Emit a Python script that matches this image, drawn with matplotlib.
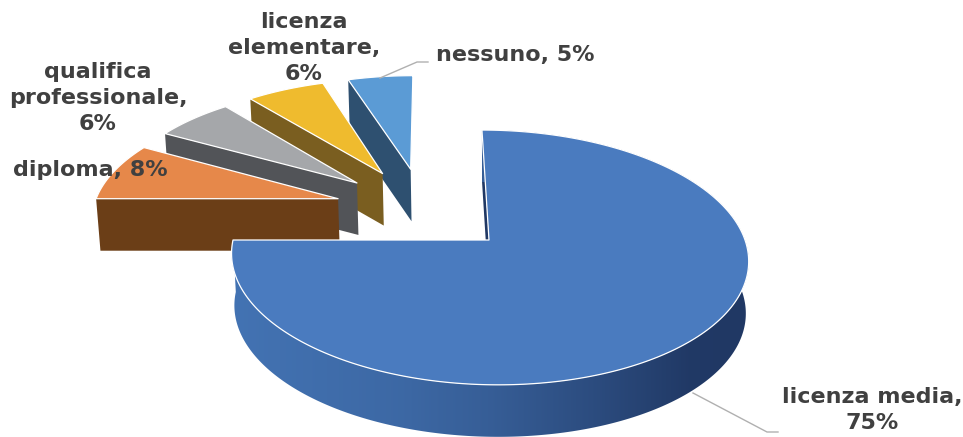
import numpy as np
import matplotlib
matplotlib.use("Agg")
import matplotlib.pyplot as plt
from matplotlib.colors import to_rgb
from matplotlib.patches import Polygon

names = ["licenza media", "diploma", "qualifica professionale", "licenza elementare", "nessuno"]
shares = [75, 8, 6, 6, 5]
label_text = ["licenza media,\n75%", "diploma, 8%", "qualifica\nprofessionale,\n6%",
              "licenza\nelementare,\n6%", "nessuno, 5%"]

top_colors = ["#4a7bbf", "#e6884a", "#a5a7aa", "#efbb2e", "#5b9bd5"]
side_colors = ["#203864", "#6b3e17", "#525458", "#7a5e20", "#2e5070"]
label_xy = [(872, 410), (90, 170), (98, 98), (304, 48), (515, 55)]

EXPLODE = 0.362
DEPTH = 52
SMALL_RADIUS = 0.99

# pie plane -> pixels, simple perspective around the big slice's tip
TIP_X, TIP_Y = 489, 240
SCALE_X, SCALE_Y = 256, 125
SKEW = -8.0
PERSP = 7.3
CONVERGE = 0.011


def project(u, v):
    w = 1 + v / PERSP
    return TIP_X + (SCALE_X * u + SKEW * v) / w, TIP_Y - SCALE_Y * v / w


def lower(x, y):
    return x + (TIP_X - x) * CONVERGE, y + DEPTH


def direction(theta):
    return np.sin(np.radians(theta)), np.cos(np.radians(theta))


fig = plt.figure(figsize=(9.63, 4.37), dpi=100)
ax = fig.add_axes([0, 0, 1, 1])
ax.axis("off")

edges = np.cumsum([0] + shares) * 3.6
mids = (edges[:-1] + edges[1:]) / 2
# the tip of the big slice is the reference point, so shift everything by its offset
off_u, off_v = np.array(direction(mids[0])) * EXPLODE

# small slices first (far to near), big slice last so it sits on top
for i in [4, 3, 2, 1, 0]:
    du, dv = np.array(direction(mids[i])) * EXPLODE
    cu, cv = du - off_u, dv - off_v
    radius = 1 if i == 0 else SMALL_RADIUS
    th = np.linspace(edges[i], edges[i + 1], 300)
    rim_x, rim_y = project(cu + radius * np.sin(np.radians(th)), cv + radius * np.cos(np.radians(th)))
    tip_x, tip_y = project(cu, cv)

    # radial wall under the slice's leading edge
    bx, by = lower(tip_x, tip_y)
    bx0, by0 = lower(rim_x[0], rim_y[0])
    ax.add_patch(Polygon([(rim_x[0], rim_y[0]), (tip_x, tip_y), (bx, by), (bx0, by0)],
                         facecolor=side_colors[i], edgecolor="none"))

    if i == 0:
        # outer wall, horizontal gradient clipped to the wall's outline
        low_x, low_y = lower(rim_x, rim_y)
        wall = Polygon(list(zip(rim_x, rim_y)) + list(zip(low_x[::-1], low_y[::-1])),
                       facecolor="none", edgecolor="none")
        ax.add_patch(wall)
        xs = np.arange(225, 756)
        shade = np.interp(xs, [232, 400, 490, 600, 690, 750], [0, 0.18, 0.36, 0.68, 0.98, 1])
        c0, c1 = np.array(to_rgb("#4373b3")), np.array(to_rgb(side_colors[0]))
        strip = (c0 + (c1 - c0) * shade[:, None])[None, :, :]
        img = ax.imshow(strip, extent=(225, 756, 450, 120), aspect="auto", zorder=wall.get_zorder())
        img.set_clip_path(wall)

    pts = [(tip_x, tip_y)] + list(zip(rim_x, rim_y))
    ax.add_patch(Polygon(pts, facecolor=top_colors[i], edgecolor="white", lw=0.9,
                         joinstyle="round", zorder=2 if i == 0 else 1))

ax.set_xlim(0, 963)
ax.set_ylim(437, 0)

# leader lines
ax.plot([380, 417, 428], [78, 62, 62], color="#b0b0b0", lw=1, zorder=3)
ax.plot([693, 767, 778], [393, 432, 432], color="#b0b0b0", lw=1, zorder=3)

for txt, (x, y) in zip(label_text, label_xy):
    ax.text(x, y, txt, ha="center", va="center", fontsize=16, fontweight="bold",
            color="#404040", family="DejaVu Sans", linespacing=1.38, zorder=4)

fig.savefig("out.png", dpi=100, facecolor="white")
